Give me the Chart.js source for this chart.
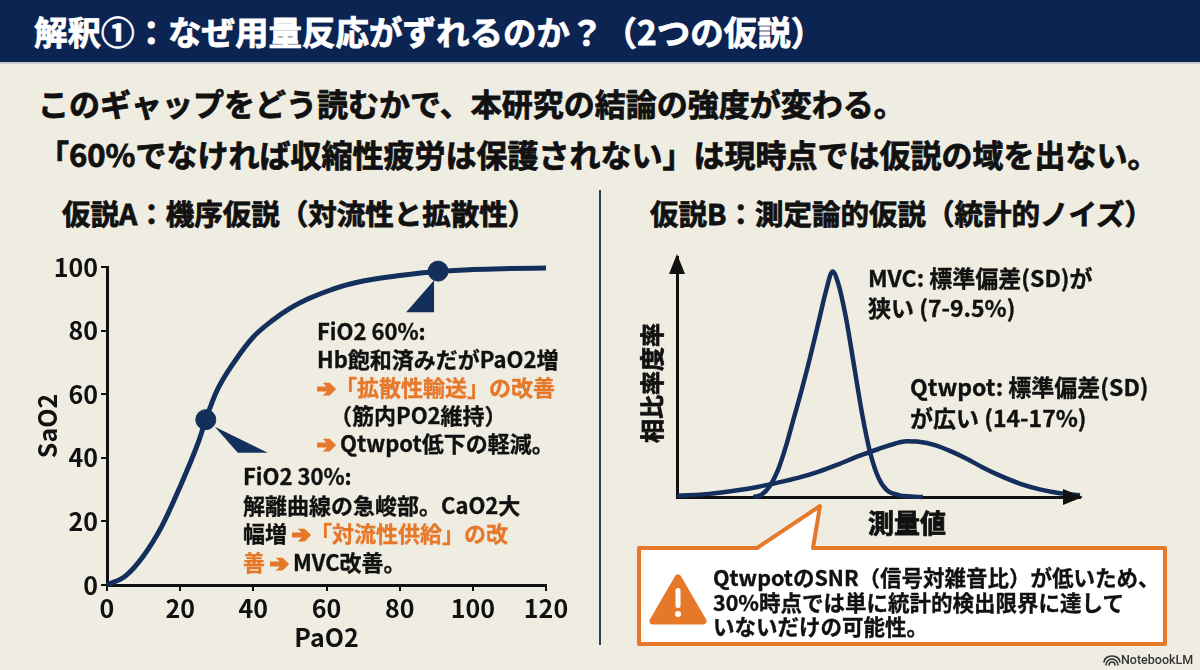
<!DOCTYPE html>
<html lang="ja">
<head>
<meta charset="utf-8">
<script src="https://cdn.jsdelivr.net/npm/chart.js@4.4.1/dist/chart.umd.min.js"></script>
<style>
  html, body { margin: 0; padding: 0; }
  body {
    width: 1200px; height: 670px; position: relative; overflow: hidden;
    background: #efede2; font-family: "Noto Sans CJK JP", "Noto Sans", sans-serif;
    font-weight: 700; color: #111;
  }
  .abs { position: absolute; white-space: nowrap; }
  .heavy { -webkit-text-stroke: 0.8px currentColor; }
  #bar { left: 0; top: 0; width: 1200px; height: 62px; background: #0c2452; border-bottom: 2px solid #c9ccd2; }
  #title { left: 34px; top: 9px; font-size: 33.5px; line-height: 44px; color: #fff; }
  .lead { font-size: 31px; line-height: 40px; }
  .head { font-size: 28.5px; line-height: 36px; }
  .note { font-size: 22px; line-height: 28px; -webkit-text-stroke: 0.35px currentColor; }
  .org { color: #e6782a; }
  .arr { color: #e6782a; -webkit-text-stroke: 1.6px #e6782a; }
  #divider { left: 599px; top: 190px; width: 2px; height: 455px; background: #2e3f5e; }
  canvas { position: absolute; }
  #leftWrap { position: absolute; left: 0; top: 240px; width: 600px; height: 420px; }
  #rightWrap { position: absolute; left: 600px; top: 240px; width: 600px; height: 300px; }
  #overlay { position: absolute; left: 0; top: 0; width: 1200px; height: 670px; pointer-events: none; }
  #logo { left: 1121px; top: 652px; font-size: 12.5px; line-height: 16px; color: #333; font-family: "Roboto", sans-serif; font-weight: 500; }
</style>
</head>
<body>
<div class="abs" id="bar"></div>
<div class="abs heavy" id="title">解釈①：なぜ用量反応がずれるのか？（2つの仮説）</div>

<div class="abs lead heavy" style="left:38px; top:83px;">このギャップをどう読むかで、本研究の結論の強度が変わる。</div>
<div class="abs lead heavy" style="left:38px; top:134px;">「60%でなければ収縮性疲労は保護されない」は現時点では仮説の域を出ない。</div>

<div class="abs head heavy" style="left:62px; top:195px;">仮説A：機序仮説（対流性と拡散性）</div>
<div class="abs head heavy" style="left:650px; top:195px;">仮説B：測定論的仮説（統計的ノイズ）</div>
<div class="abs" id="divider"></div>

<div id="leftWrap"><canvas id="leftChart" width="600" height="420"></canvas></div>
<div id="rightWrap"><canvas id="rightChart" width="600" height="300"></canvas></div>

<svg id="overlay" viewBox="0 0 1200 670">
  <path d="M639,548 L757,548 L820,506 L813,548 L1165,548 L1165,644 L639,644 Z"
        fill="#ffffff" stroke="#e6782a" stroke-width="4" stroke-linejoin="round"/>
  <path d="M678,578 L703,621 L653,621 Z" fill="#e6782a" stroke="#e6782a" stroke-width="7" stroke-linejoin="round"/>
  <rect x="675.5" y="588" width="5" height="20" rx="2.5" fill="#ffffff"/>
  <circle cx="678" cy="614" r="3" fill="#ffffff"/>
  <g fill="none" stroke="#333" stroke-width="1.6" stroke-linecap="round">
    <path d="M1106,665 A6,6 0 0 1 1118,665"/>
    <path d="M1109,665 A3,3 0 0 1 1115,665"/>
    <path d="M1104,662 A8,6 0 0 1 1120,662"/>
  </g>
</svg>

<!-- left annotations -->
<div class="abs note" style="left:317px; top:316px;">
  FiO2 60%:<br>
  Hb飽和済みだがPaO2増<br>
  <span class="arr">➔</span><span class="org">「拡散性輸送」の改善</span><br>
  <span style="padding-left:13px;">（筋内PO2維持）</span><br>
  <span class="arr">➔</span> Qtwpot低下の軽減。
</div>
<div class="abs note" style="left:243px; top:461px; line-height:28.5px;">
  FiO2 30%:<br>
  解離曲線の急峻部。CaO2大<br>
  幅増 <span class="arr">➔</span><span class="org">「対流性供給」の改</span><br>
  <span class="org">善</span> <span class="arr">➔</span> MVC改善。
</div>

<!-- right annotations -->
<div class="abs note" style="left:868px; top:262px; line-height:30px; font-size:23px;">MVC: 標準偏差(SD)が<br>狭い (7-9.5%)</div>
<div class="abs note" style="left:910px; top:371px; line-height:31px; font-size:23px;">Qtwpot: 標準偏差(SD)<br>が広い (14-17%)</div>
<div class="abs heavy" style="left:868px; top:505px; font-size:26px; line-height:34px;">測量値</div>
<div class="abs heavy" style="left:591px; top:368px; width:120px; text-align:center; font-size:24px; line-height:30px; transform: rotate(-90deg);">相比率度率</div>

<div class="abs note" style="left:713px; top:565px; font-size:21.5px; line-height:24.5px;">
  QtwpotのSNR（信号対雑音比）が低いため、<br>
  30%時点では単に統計的検出限界に達して<br>
  いないだけの可能性。
</div>

<div class="abs" id="logo">NotebookLM</div>

<script>
// Oxygen dissociation curve (left)
const paO2 = [0, 5, 10, 15, 20, 25, 27, 30, 35, 40, 45, 50, 55, 60, 65, 70, 80, 90, 100, 110, 120];
const saO2 = [0, 2.8, 9.2, 18.5, 31, 45, 52, 61, 70.5, 78, 83, 87, 90, 92.3, 94.2, 95.6, 97.3, 98.6, 99.2, 99.5, 99.7];
const markerPaO2 = [27, 90.5];
const markerSaO2 = [52, 98.7];
const axisTicks = [0, 20, 40, 60, 80, 100, 120];

// Distributions (right), x in arbitrary measurement units 0-100
const mvcX = [19, 21, 23, 25, 27, 29, 31, 33, 35, 37, 38.6, 40, 42, 44, 46, 48, 50, 52, 55, 58, 61];
const mvcY = [0, 1, 4.5, 11, 21, 33, 45, 58, 72, 86, 94, 89, 74, 54, 34, 18, 8, 3, 0.8, 0.2, 0];
const qtwX = [0, 8, 15, 20, 25, 30, 35, 40, 45, 50, 54, 57, 60, 64, 68, 72, 76, 80, 85, 90, 95, 100];
const qtwY = [0.5, 1.3, 2.8, 4.2, 6, 8, 10.5, 13.6, 17, 20, 22.2, 23.2, 23, 21.6, 19, 15.8, 12.2, 9, 5.6, 3.2, 1.6, 0.7];

const NAVY = '#142f5c';
Chart.defaults.font.family = '"Noto Sans CJK JP", "Noto Sans", sans-serif';
Chart.defaults.color = '#111';

const toPoints = (xs, ys) => xs.map((x, i) => ({ x: x, y: ys[i] }));

// little wedges pointing from the markers to the notes
const wedgePlugin = {
  id: 'wedges',
  afterDatasetsDraw(chart) {
    const pts = chart.getDatasetMeta(1).data;
    const ctx = chart.ctx;
    ctx.save();
    ctx.fillStyle = NAVY;
    const a = pts[0];
    ctx.beginPath();
    ctx.moveTo(a.x + 9, a.y + 7);
    ctx.lineTo(a.x + 62, a.y + 33);
    ctx.lineTo(a.x + 32, a.y + 33);
    ctx.closePath();
    ctx.fill();
    const b = pts[1];
    ctx.beginPath();
    ctx.moveTo(b.x - 4, b.y + 9);
    ctx.lineTo(b.x - 4, b.y + 41);
    ctx.lineTo(b.x - 32, b.y + 41);
    ctx.closePath();
    ctx.fill();
    ctx.restore();
  }
};

new Chart(document.getElementById('leftChart'), {
  type: 'line',
  data: {
    datasets: [
      {
        data: toPoints(paO2, saO2),
        borderColor: NAVY,
        borderWidth: 5,
        pointRadius: 0,
        cubicInterpolationMode: 'monotone',
        fill: false
      },
      {
        data: toPoints(markerPaO2, markerSaO2),
        showLine: false,
        pointRadius: 10,
        pointBackgroundColor: NAVY,
        pointBorderColor: NAVY
      }
    ]
  },
  options: {
    responsive: false,
    animation: false,
    clip: false,
    layout: { padding: { left: 0, right: 54, top: 27, bottom: 0 } },
    plugins: { legend: { display: false }, tooltip: { enabled: false } },
    scales: {
      x: {
        type: 'linear', min: 0, max: 120,
        afterBuildTicks: s => { s.ticks = axisTicks.map(v => ({ value: v })); },
        afterFit: s => { s.height = 75; },
        border: { color: '#111', width: 3 },
        grid: { drawOnChartArea: false, drawTicks: true, tickLength: 6, color: '#111', lineWidth: 2 },
        ticks: { font: { size: 25, weight: 'bold' }, padding: 2, maxRotation: 0 },
        title: { display: true, text: 'PaO2', font: { size: 25, weight: 'bold' }, padding: { top: 0, bottom: 8 } }
      },
      y: {
        type: 'linear', min: 0, max: 100,
        afterBuildTicks: s => { s.ticks = axisTicks.slice(0, 6).map(v => ({ value: v })); },
        afterFit: s => { s.width = 107; },
        border: { color: '#111', width: 3 },
        grid: { drawOnChartArea: false, drawTicks: true, tickLength: 6, color: '#111', lineWidth: 2 },
        ticks: { font: { size: 25, weight: 'bold' }, padding: 3 },
        title: { display: true, text: 'SaO2', font: { size: 25, weight: 'bold' }, padding: { top: 32, bottom: 0 } }
      }
    }
  },
  plugins: [wedgePlugin]
});

// arrowheads on the distribution axes
const arrowPlugin = {
  id: 'arrows',
  afterDraw(chart) {
    const { left, right, top, bottom } = chart.chartArea;
    const ctx = chart.ctx;
    ctx.save();
    ctx.fillStyle = '#111';
    ctx.beginPath();
    ctx.moveTo(left, top - 3);
    ctx.lineTo(left + 8, top + 17);
    ctx.lineTo(left - 8, top + 17);
    ctx.closePath();
    ctx.fill();
    ctx.beginPath();
    ctx.moveTo(right + 3, bottom);
    ctx.lineTo(right - 17, bottom - 8);
    ctx.lineTo(right - 17, bottom + 8);
    ctx.closePath();
    ctx.fill();
    ctx.restore();
  }
};

new Chart(document.getElementById('rightChart'), {
  type: 'line',
  data: {
    datasets: [
      { data: toPoints(mvcX, mvcY), borderColor: NAVY, borderWidth: 4.5, pointRadius: 0, cubicInterpolationMode: 'monotone', fill: false },
      { data: toPoints(qtwX, qtwY), borderColor: NAVY, borderWidth: 4.5, pointRadius: 0, cubicInterpolationMode: 'monotone', fill: false }
    ]
  },
  options: {
    responsive: false,
    animation: false,
    clip: false,
    layout: { padding: { left: 77, right: 120, top: 17, bottom: 43 } },
    plugins: { legend: { display: false }, tooltip: { enabled: false } },
    scales: {
      x: {
        type: 'linear', min: 0, max: 100,
        afterFit: s => { s.height = 0; },
        border: { color: '#111', width: 3 },
        grid: { drawOnChartArea: false, drawTicks: false },
        ticks: { display: false }
      },
      y: {
        type: 'linear', min: 0, max: 100,
        afterFit: s => { s.width = 0; },
        border: { color: '#111', width: 3 },
        grid: { drawOnChartArea: false, drawTicks: false },
        ticks: { display: false }
      }
    }
  },
  plugins: [arrowPlugin]
});
</script>
</body>
</html>
